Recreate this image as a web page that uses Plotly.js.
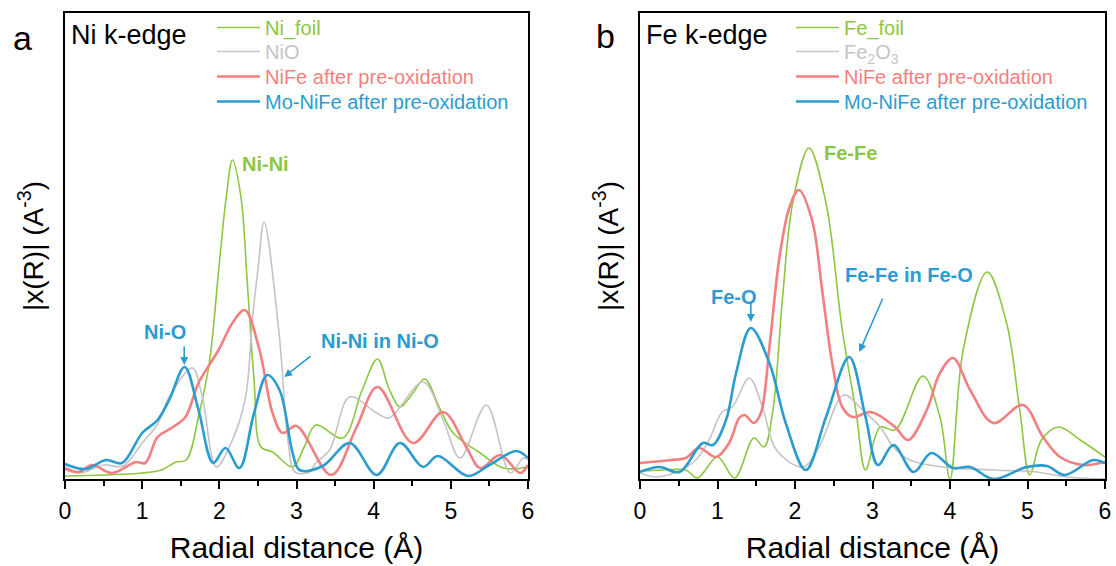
<!DOCTYPE html>
<html>
<head>
<meta charset="utf-8">
<script src="https://cdn.plot.ly/plotly-3.0.1.min.js"></script>
<style>html,body{margin:0;padding:0;background:#fff;}#chart{width:1116px;height:566px;}</style>
</head>
<body>
<div id="chart"></div>
<script>
// ---- Panel a: Ni k-edge ----
const niFoilR = [0, 0.5, 1.0, 1.25, 1.44, 1.57, 1.74, 1.87, 2.0, 2.09, 2.17, 2.28, 2.36, 2.45, 2.54, 2.69, 2.95, 3.1, 3.25, 3.6, 3.85, 4.05, 4.2, 4.34, 4.5, 4.66, 4.85, 5.03, 5.38, 5.68, 6.0];
const niFoilY = [0.03, 0.04, 0.06, 0.09, 0.17, 0.19, 0.66, 1.16, 2.16, 2.82, 3.19, 2.82, 1.99, 0.99, 0.32, 0.27, 0.12, 0.32, 0.54, 0.41, 0.89, 1.20, 0.90, 0.72, 0.85, 1.00, 0.72, 0.46, 0.26, 0.11, 0.12];

const niOR = [0, 0.2, 0.5, 0.75, 1.0, 1.2, 1.35, 1.65, 1.78, 1.96, 2.17, 2.34, 2.43, 2.5, 2.58, 2.77, 2.9, 2.98, 3.17, 3.25, 3.43, 3.69, 4.04, 4.2, 4.64, 4.9, 5.12, 5.46, 5.77, 5.94, 6.0];
const niOY = [0.09, 0.06, 0.14, 0.13, 0.36, 0.55, 0.82, 1.11, 0.82, 0.12, 0.39, 0.82, 1.62, 2.09, 2.57, 1.49, 0.32, 0.07, 0.07, 0.16, 0.29, 0.82, 0.66, 0.61, 0.97, 0.59, 0.21, 0.74, 0.06, 0.21, 0.19];

const niFeNiR = [0, 0.18, 0.35, 0.61, 0.92, 1.04, 1.2, 1.38, 1.56, 1.73, 1.99, 2.17, 2.33, 2.52, 2.69, 2.82, 3.0, 3.45, 3.78, 4.05, 4.51, 4.9, 5.2, 5.38, 5.64, 5.9, 6.0];
const niFeNiY = [0.11, 0.07, 0.14, 0.06, 0.17, 0.16, 0.42, 0.51, 0.62, 0.96, 1.29, 1.56, 1.69, 1.29, 0.66, 0.46, 0.53, 0.04, 0.52, 0.92, 0.36, 0.67, 0.32, 0.11, 0.24, 0.06, 0.14];

const moNiFeNiR = [0, 0.27, 0.53, 0.74, 1.0, 1.2, 1.35, 1.55, 1.73, 1.92, 2.08, 2.26, 2.45, 2.62, 2.78, 2.95, 3.04, 3.34, 3.69, 4.04, 4.34, 4.64, 4.83, 5.22, 5.5, 5.85, 6.0];
const moNiFeNiY = [0.15, 0.10, 0.19, 0.16, 0.46, 0.59, 0.79, 1.12, 0.69, 0.16, 0.31, 0.11, 0.66, 1.04, 0.89, 0.26, 0.09, 0.13, 0.36, 0.04, 0.36, 0.12, 0.23, 0.03, 0.14, 0.28, 0.21];

// ---- Panel b: Fe k-edge ----
const feFoilR = [0, 0.3, 0.59, 0.74, 1.0, 1.22, 1.47, 1.6, 1.71, 1.84, 1.97, 2.18, 2.4, 2.61, 2.79, 2.91, 3.1, 3.29, 3.65, 3.87, 4.0, 4.17, 4.48, 4.73, 4.9, 5.03, 5.18, 5.4, 5.68, 6.0];
const feFoilY = [0.08, 0.09, 0.09, 0.01, 0.22, 0.01, 0.41, 0.32, 0.66, 1.82, 2.76, 3.31, 2.76, 1.49, 0.66, 0.09, 0.52, 0.49, 1.03, 0.62, 0.0, 1.29, 2.07, 1.56, 0.69, 0.04, 0.39, 0.52, 0.39, 0.22];

const fe2o3R = [0, 0.21, 0.47, 0.72, 0.89, 1.06, 1.19, 1.41, 1.58, 1.76, 2.1, 2.31, 2.63, 2.87, 3.1, 3.27, 3.48, 3.91, 4.56, 5.12, 5.5, 6.0];
const fe2o3Y = [0.06, 0.02, 0.07, 0.19, 0.39, 0.67, 0.72, 1.01, 0.72, 0.29, 0.12, 0.32, 0.84, 0.69, 0.52, 0.32, 0.19, 0.12, 0.09, 0.07, 0.02, 0.0];

const niFeFeR = [0, 0.41, 0.59, 0.76, 0.98, 1.15, 1.28, 1.35, 1.47, 1.56, 1.67, 1.8, 1.93, 2.05, 2.22, 2.35, 2.48, 2.61, 2.74, 2.98, 3.29, 3.46, 3.7, 3.87, 4.04, 4.26, 4.56, 4.94, 5.2, 5.42, 5.72, 6.0];
const niFeFeY = [0.16, 0.19, 0.21, 0.31, 0.22, 0.36, 0.61, 0.64, 0.56, 0.66, 1.32, 2.22, 2.72, 2.89, 2.59, 1.89, 1.16, 0.72, 0.62, 0.67, 0.52, 0.39, 0.69, 1.06, 1.21, 0.89, 0.56, 0.74, 0.42, 0.22, 0.14, 0.17];

const moNiFeFeR = [0, 0.25, 0.51, 0.81, 0.94, 1.11, 1.24, 1.43, 1.67, 1.88, 2.14, 2.4, 2.7, 2.91, 3.07, 3.27, 3.53, 3.76, 4.04, 4.26, 4.56, 4.99, 5.25, 5.48, 5.85, 6.0];
const moNiFeFeY = [0.07, 0.12, 0.07, 0.36, 0.34, 0.59, 1.06, 1.51, 1.16, 0.56, 0.09, 0.62, 1.22, 0.62, 0.14, 0.34, 0.07, 0.26, 0.11, 0.12, 0.0, 0.12, 0.13, 0.04, 0.19, 0.16];

const xTicks = [0, 1, 2, 3, 4, 5, 6];

const GREEN = '#8dc63f', GRAY = '#c4c4c4', RED = '#f37f80', BLUE = '#2b9ccf';
const FONT = 'Liberation Sans, Arial, sans-serif';
const W = 1116, H = 566;

function tr(x, y, name, color, width, xa, ya, leg) {
  return {
    x: x, y: y, type: 'scatter', mode: 'lines', showlegend: true,
    line: {color: color, width: width, shape: 'spline', smoothing: 1},
    name: '<span style="color:' + color + '">' + name + '</span>',
    xaxis: xa, yaxis: ya, legend: leg
  };
}

const data = [
  tr(niFoilR, niFoilY, 'Ni_foil', GREEN, 1.6, 'x', 'y', 'legend'),
  tr(niOR, niOY, 'NiO', GRAY, 1.6, 'x', 'y', 'legend2'),
  tr(niFeNiR, niFeNiY, 'NiFe after pre-oxidation', RED, 2.6, 'x', 'y', 'legend3'),
  tr(moNiFeNiR, moNiFeNiY, 'Mo-NiFe after pre-oxidation', BLUE, 2.6, 'x', 'y', 'legend4'),
  tr(feFoilR, feFoilY, 'Fe_foil', GREEN, 1.6, 'x2', 'y2', 'legend5'),
  tr(fe2o3R, fe2o3Y, 'Fe<sub>2</sub>O<sub>3</sub>', GRAY, 1.6, 'x2', 'y2', 'legend6'),
  tr(niFeFeR, niFeFeY, 'NiFe after pre-oxidation', RED, 2.6, 'x2', 'y2', 'legend7'),
  tr(moNiFeFeR, moNiFeFeY, 'Mo-NiFe after pre-oxidation', BLUE, 2.6, 'x2', 'y2', 'legend8')
];

function xax(domain) {
  return {
    domain: domain, range: [0, 6], showline: true, linecolor: '#000', linewidth: 2, mirror: true,
    ticks: 'outside', ticklen: 8, tickwidth: 2, tickcolor: '#000',
    tickvals: xTicks, ticktext: xTicks.map(String), ticklabelstandoff: 2,
    minor: {dtick: 0.5, tick0: 0, ticks: 'outside', ticklen: 5, tickwidth: 2, tickcolor: '#000', showgrid: false},
    tickfont: {family: FONT, size: 23, color: '#000'},
    showgrid: false, zeroline: false, fixedrange: true,
    title: {text: 'Radial distance (Å)', font: {family: FONT, size: 30, color: '#000'}, standoff: 14}
  };
}
function yax(domain, anchor) {
  return {
    domain: domain, range: [0, 4.66], anchor: anchor, showline: true, linecolor: '#000', linewidth: 2, mirror: true,
    ticks: '', showticklabels: false, showgrid: false, zeroline: false, fixedrange: true,
    title: {text: '|x(R)| (A<sup>-3</sup>)', font: {family: FONT, size: 28, color: '#000'}, standoff: 11}
  };
}

function leg(xpx, centerPx) {
  return {
    visible: true,
    bgcolor: 'rgba(0,0,0,0)', borderwidth: 0, xanchor: 'left', yanchor: 'top',
    x: xpx / W, y: 1 - (centerPx - 20) / H,
    font: {family: FONT, size: 20, color: '#000'}, itemwidth: 43,
    itemclick: false, itemdoubleclick: false
  };
}

const ann = (x, y, xref, yref, text, color, size, bold, extra) => Object.assign({
  x: x, y: y, xref: xref, yref: yref, showarrow: false,
  text: bold ? '<b>' + text + '</b>' : text,
  font: {family: FONT, size: size, color: color}
}, extra || {});

const arrow = (x, y, xref, yref, ax, ay) => ({
  x: x, y: y, xref: xref, yref: yref, text: '', showarrow: true,
  ax: ax, ay: ay, arrowhead: 2, arrowsize: 1, arrowwidth: 1.6, arrowcolor: BLUE, standoff: 0
});

const layout = {
  width: W, height: H,
  showlegend: true,
  margin: {l: 0, r: 0, t: 0, b: 0},
  paper_bgcolor: '#fff', plot_bgcolor: '#fff',
  font: {family: FONT},
  xaxis: xax([65 / W, 528 / W]),
  yaxis: yax([87 / H, 553 / H], 'x'),
  xaxis2: Object.assign(xax([640 / W, 1105 / W]), {anchor: 'y2'}),
  yaxis2: yax([87 / H, 553 / H], 'x2'),
  legend: leg(212, 28), legend2: leg(212, 52), legend3: leg(212, 77), legend4: leg(212, 102),
  legend5: leg(791, 28), legend6: leg(791, 52), legend7: leg(791, 77), legend8: leg(791, 102),
  annotations: [
    ann(22 / W, 1 - 38 / H, 'paper', 'paper', 'a', '#000', 34, false, {xanchor: 'center', yanchor: 'middle'}),
    ann(605 / W, 1 - 36 / H, 'paper', 'paper', 'b', '#000', 34, false, {xanchor: 'center', yanchor: 'middle'}),
    ann(69 / W, 1 - 35 / H, 'paper', 'paper', 'Ni k-edge', '#000', 27, false, {xanchor: 'left', yanchor: 'middle'}),
    ann(644 / W, 1 - 35 / H, 'paper', 'paper', 'Fe k-edge', '#000', 27, false, {xanchor: 'left', yanchor: 'middle'}),
    ann(2.6, 3.15, 'x', 'y', 'Ni-Ni', GREEN, 20, true),
    ann(1.30, 1.47, 'x', 'y', 'Ni-O', BLUE, 20, true),
    ann(4.08, 1.38, 'x', 'y', 'Ni-Ni in Ni-O', BLUE, 20, true),
    arrow(1.545, 1.14, 'x', 'y', 0, -20),
    arrow(2.84, 1.02, 'x', 'y', 28, -22),
    ann(2.71, 3.26, 'x2', 'y2', 'Fe-Fe', GREEN, 20, true),
    ann(1.21, 1.82, 'x2', 'y2', 'Fe-O', BLUE, 20, true),
    ann(3.47, 2.04, 'x2', 'y2', 'Fe-Fe in Fe-O', BLUE, 20, true),
    arrow(1.43, 1.57, 'x2', 'y2', 0, -22),
    arrow(2.83, 1.27, 'x2', 'y2', 24, -55)
  ]
};

Plotly.newPlot('chart', data, layout, {staticPlot: true, displayModeBar: false});
</script>
</body>
</html>
